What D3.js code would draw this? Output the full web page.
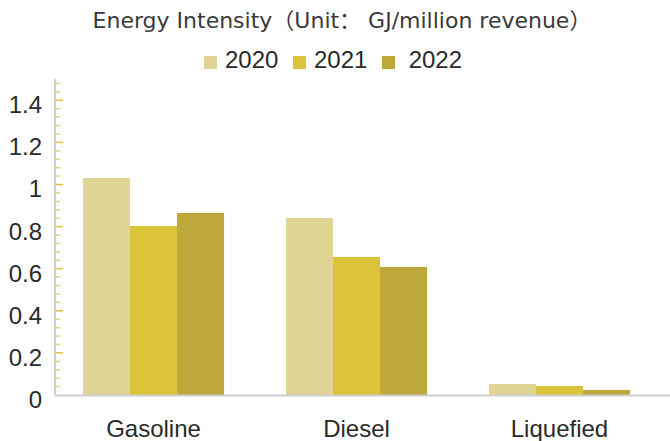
<!DOCTYPE html>
<html>
<head>
<meta charset="utf-8">
<script src="https://cdn.jsdelivr.net/npm/d3@7"></script>
<style>
  html, body { margin: 0; padding: 0; background: #fff; }
  svg { display: block; }
  text { font-family: "Liberation Sans", Arial, sans-serif; }
</style>
</head>
<body>
<svg id="chart" width="670" height="441"></svg>
<script>
const title = "Energy Intensity（Unit： GJ/million revenue）";
const categories = ["Gasoline", "Diesel", "Liquefied"];
const seriesNames = ["2020", "2021", "2022"];
const legendLabels = ["2020", "2021", " 2022"];
const values2020 = [1.031, 0.841, 0.052];
const values2021 = [0.803, 0.656, 0.043];
const values2022 = [0.865, 0.608, 0.024];
const yTickLabels = ["0", "0.2", "0.4", "0.6", "0.8", "1", "1.2", "1.4"];
const colors = ["#E0D594", "#DBC43A", "#BEA83B"];

const series = [values2020, values2021, values2022];
const svg = d3.select("#chart");
const W = 670, H = 441;
const left = 55, baseY = 395;

const y = d3.scaleLinear().domain([0, 1.5]).range([baseY, baseY - 1.5 * 210.5]);
const x0 = d3.scaleBand().domain(categories).range([52, 661]).paddingInner(0.305).paddingOuter(0.1527);
const x1 = d3.scaleBand().domain(seriesNames).range([0, x0.bandwidth()]);

// Title
svg.append("text")
  .attr("x", 342).attr("y", 28)
  .attr("text-anchor", "middle")
  .style("font-size", "22px")
  .attr("fill", "#3a3a3a")
  .style("font-family", "'DejaVu Sans', 'Noto Sans CJK SC', sans-serif")
  .text(title);

// Legend
const legendX = [204, 293, 382];
const legendTextX = [225, 314, 402];
seriesNames.forEach((s, i) => {
  svg.append("rect").attr("x", legendX[i]).attr("y", 56).attr("width", 13).attr("height", 13).attr("fill", colors[i]);
  svg.append("text").attr("x", legendTextX[i]).attr("y", 68)
    .attr("font-size", 24).attr("fill", "#2a2a2a")
    .attr("xml:space", "preserve")
    .style("white-space", "pre")
    .text(legendLabels[i]);
});

// Bars
const g = svg.append("g");
categories.forEach((c, ci) => {
  seriesNames.forEach((s, si) => {
    const v = series[si][ci];
    g.append("rect")
      .attr("x", x0(c) + x1(s))
      .attr("y", y(v))
      .attr("width", x1.bandwidth())
      .attr("height", baseY - y(v))
      .attr("fill", colors[si]);
  });
});

// Y axis line
svg.append("line").attr("x1", left).attr("x2", left).attr("y1", y(1.5)).attr("y2", baseY)
  .attr("stroke", "#cfcfcf").attr("stroke-width", 2);

// Minor/major ticks
const minorTicks = d3.range(1, 38).map(i => i * 0.04).filter(v => v <= 1.49);
svg.append("g").selectAll("line").data(minorTicks).join("line")
  .attr("x1", left + 1).attr("x2", d => (Math.round(d * 100) % 20 === 0) ? left + 8 : left + 5)
  .attr("y1", d => y(d)).attr("y2", d => y(d))
  .attr("stroke", d => (Math.round(d * 100) % 20 === 0) ? "#DBC43A" : "#E3D37A")
  .attr("stroke-width", 1.5);

// Y tick labels
const yAxis = d3.axisLeft(y).tickValues(yTickLabels.map(Number)).tickFormat((d, i) => yTickLabels[i]).tickSize(0).tickPadding(0);
const ya = svg.append("g").attr("transform", `translate(42,0)`).call(yAxis);
ya.select(".domain").remove();
ya.selectAll("text").attr("font-size", 24).attr("fill", "#2a2a2a").attr("dy", "0.52em")
  .attr("font-family", "'Liberation Sans', Arial, sans-serif");

// Baseline
svg.append("line").attr("x1", left).attr("x2", W).attr("y1", baseY + 0.5).attr("y2", baseY + 0.5)
  .attr("stroke", "#cfcfcf").attr("stroke-width", 2);

// X axis labels
const xAxis = d3.axisBottom(x0).tickSize(0).tickPadding(0);
const xa = svg.append("g").attr("transform", `translate(0,${baseY})`).call(xAxis);
xa.select(".domain").remove();
xa.selectAll("text").attr("font-size", 24).attr("fill", "#2a2a2a").attr("dy", 0).attr("y", 42)
  .attr("font-family", "'Liberation Sans', Arial, sans-serif");
</script>
</body>
</html>
